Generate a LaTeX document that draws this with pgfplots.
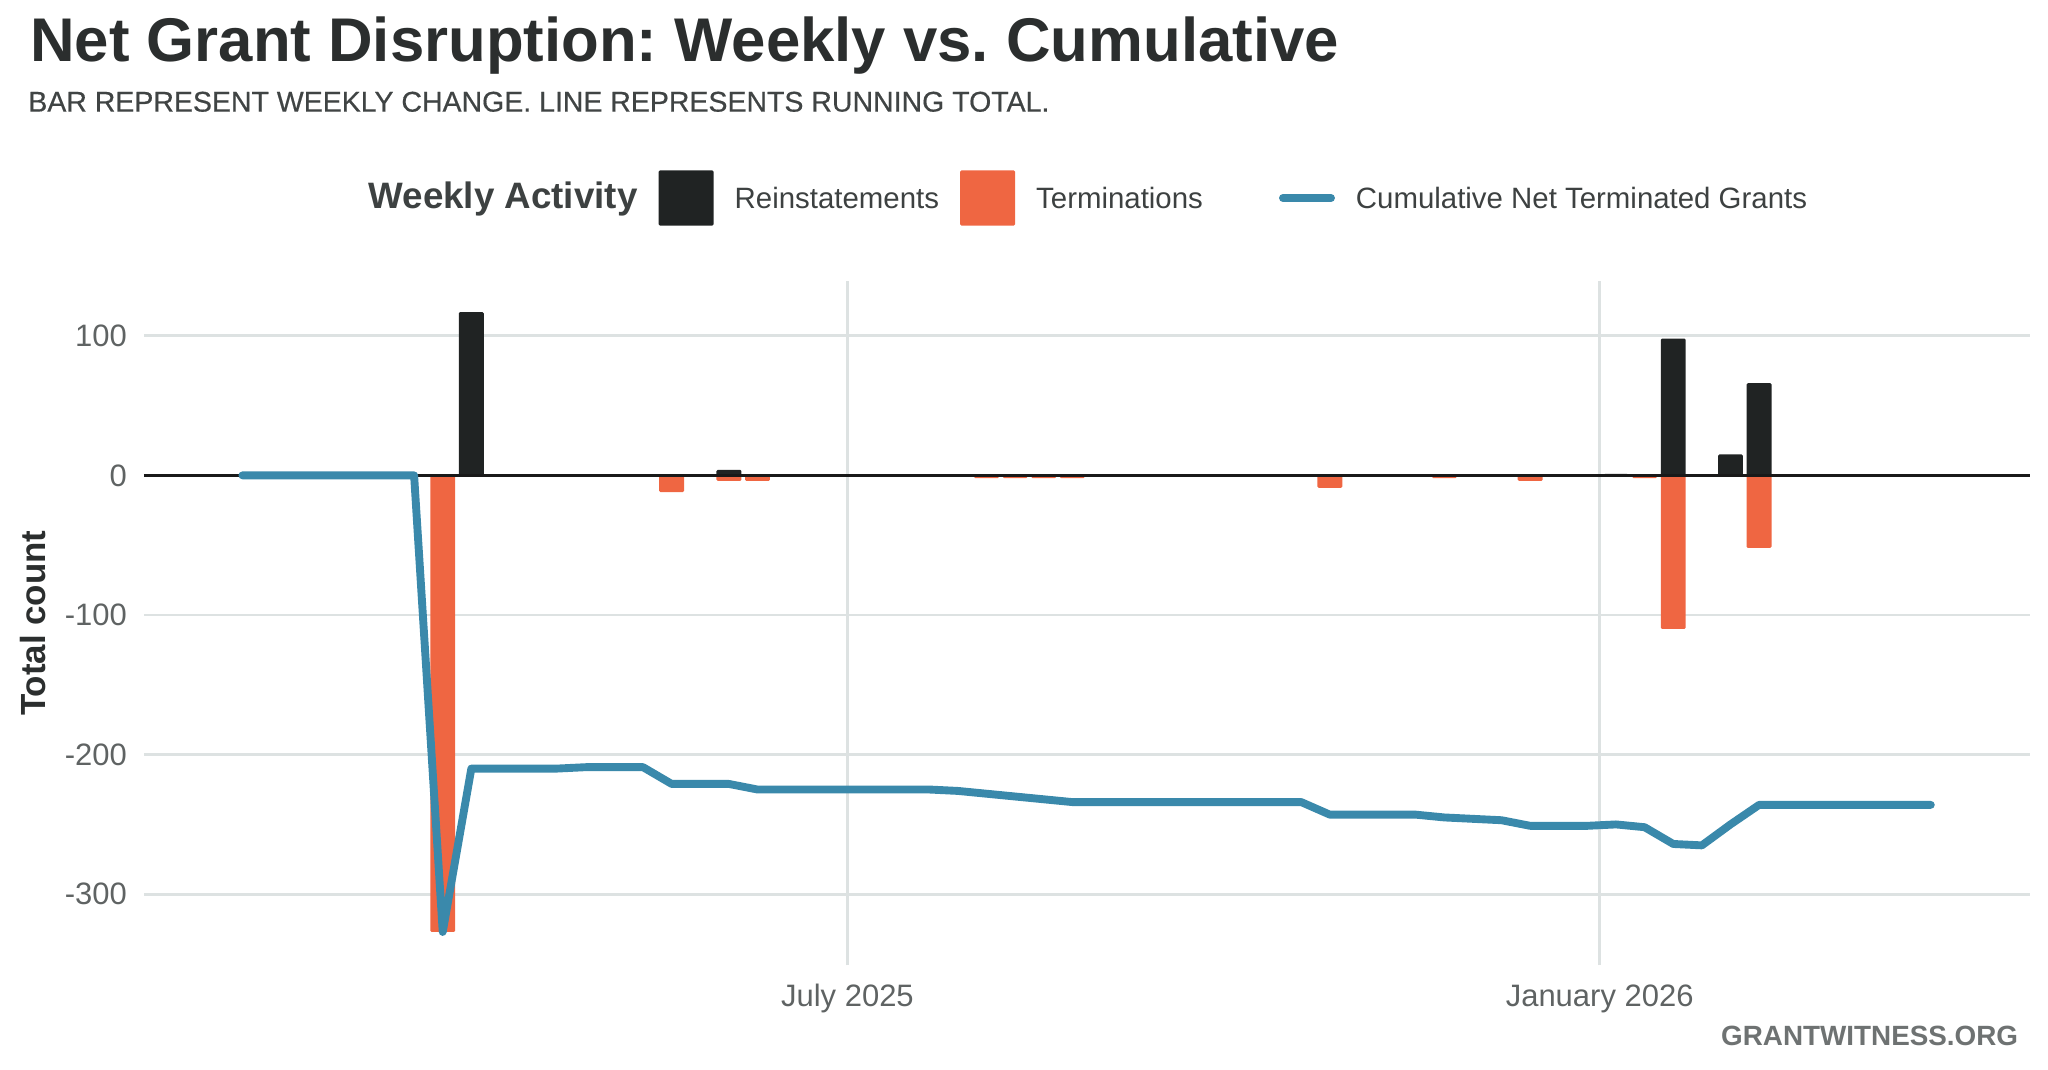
\documentclass[border=0pt]{standalone}
\usepackage{fontspec}
\setmainfont{Liberation Sans}
\usepackage{pgfplots}
\usepackage{pgfplotstable}
\pgfplotsset{compat=1.18}
\frenchspacing

\definecolor{reinstc}{HTML}{202323}
\definecolor{termc}{HTML}{EF6642}
\definecolor{cumc}{HTML}{3A89AB}
\definecolor{gridc}{HTML}{DDE2E2}
\definecolor{titlec}{HTML}{2B2E2E}
\definecolor{subc}{HTML}{404444}
\definecolor{legc}{HTML}{3D4141}
\definecolor{tickc}{HTML}{5F6363}
\definecolor{capc}{HTML}{6E7272}

% x = days since 1 July 2025 (weeks start on Mondays)
\pgfplotstableread{
day val
-92 117
-29 4
188 1
202 98
216 15
223 66
}\reinstdata

\pgfplotstableread{
day val
-99 -327
-43 -12
-29 -4
-22 -4
34 -2
41 -2
48 -2
55 -2
118 -9
146 -2
167 -4
195 -2
202 -110
223 -52
}\termdata

\pgfplotstableread{
day val
-148 0
-141 0
-134 0
-127 0
-120 0
-113 0
-106 0
-99 -327
-92 -210
-85 -210
-78 -210
-71 -210
-64 -209
-57 -209
-50 -209
-43 -221
-36 -221
-29 -221
-22 -225
-15 -225
-8 -225
-1 -225
6 -225
13 -225
20 -225
27 -226
34 -228
41 -230
48 -232
55 -234
62 -234
69 -234
76 -234
83 -234
90 -234
97 -234
104 -234
111 -234
118 -243
125 -243
132 -243
139 -243
146 -245
153 -246
160 -247
167 -251
174 -251
181 -251
188 -250
195 -252
202 -264
209 -265
216 -250
223 -236
230 -236
237 -236
244 -236
251 -236
258 -236
265 -236
}\cumdata

\begin{document}
\begin{tikzpicture}
\useasboundingbox (0,0) rectangle (780pt,407.5pt);
\begin{axis}[
    at={(54.8pt,39.8pt)}, anchor=south west,
    scale only axis,
    width=718.4pt, height=260.7pt,
    xmin=-172.1, xmax=289.3,
    ymin=-351, ymax=139.25,
    axis line style={draw=none},
    major tick length=0pt,
    xtick={0,184}, xticklabels={July 2025,January 2026},
    ytick={-300,-200,-100,0,100}, yticklabels={-300,-200,-100,0,100},
    grid=major,
    major grid style={draw=gridc, line width=1.1pt},
    tick label style={font=\fontsize{11.8}{14}\selectfont, text=tickc},
    xticklabel style={anchor=base, yshift=-15.8pt, inner sep=0pt},
    yticklabel style={anchor=east, xshift=-6.3pt, inner sep=0pt},
    ylabel={Total count},
    ylabel style={at={(axis description cs:-0.0589,0.5)}, anchor=center,
        font=\fontsize{13.3}{16}\selectfont\bfseries, text=titlec},
    legend columns=-1,
    legend style={at={(0.1077,1.1212)}, anchor=west, draw=none, fill=none,
        inner sep=0pt, font=\fontsize{11.2}{13.4}\selectfont, text=legc,
        nodes={inner sep=0pt, anchor=base west},
        /tikz/every odd column/.append style={column sep=8pt},
        /tikz/every even column/.append style={column sep=8pt}},
]
\addlegendimage{empty legend}
\addlegendentry{\fontsize{14}{16}\selectfont\bfseries Weekly Activity}

\addplot[ybar, bar width=6.1, bar shift=0pt, fill=reinstc, draw=none,
    rounded corners=0.5pt,
    legend image code/.code={\fill[reinstc] (0pt,-6.5pt) rectangle (21pt,14.5pt);}]
    table[x=day, y=val] {\reinstdata};
\addlegendentry{Reinstatements}

\addplot[ybar, bar width=6.1, bar shift=0pt, fill=termc, draw=none,
    rounded corners=0.5pt,
    legend image code/.code={\fill[termc] (0pt,-6.5pt) rectangle (21pt,14.5pt);}]
    table[x=day, y=val] {\termdata};
\addlegendentry{Terminations}

% zero reference line
\addplot[forget plot, draw=black!90, line width=1pt] coordinates {(-172.1,0) (289.3,0)};

\addplot[cumc, mark=none, line width=3pt, line join=round, line cap=round,
    legend image code/.code={
        \path[draw=none, fill=none] (0pt,-6.5pt) rectangle (42.3pt,14.5pt);
        \draw[cumc, line width=3pt, line cap=round] (22.5pt,4pt) -- (40.8pt,4pt);}]
    table[x=day, y=val] {\cumdata};
\addlegendentry{Cumulative Net Terminated Grants}
\end{axis}

\node[anchor=base west, inner sep=0pt, text=titlec,
    font=\fontsize{23.5}{28}\selectfont\bfseries] at (11.3pt,384pt)
    {Net Grant Disruption: Weekly vs. Cumulative};
\node[anchor=base west, inner sep=0pt, text=subc,
    font=\fontsize{10.85}{13}\selectfont\addfontfeature{FakeBold=0.5}] at (10.6pt,365pt)
    {BAR REPRESENT WEEKLY CHANGE. LINE REPRESENTS RUNNING TOTAL.};
\node[anchor=base east, inner sep=0pt, text=capc,
    font=\fontsize{10.6}{13}\selectfont\bfseries] at (768.8pt,9.5pt)
    {GRANTWITNESS.ORG};
\end{tikzpicture}
\end{document}
